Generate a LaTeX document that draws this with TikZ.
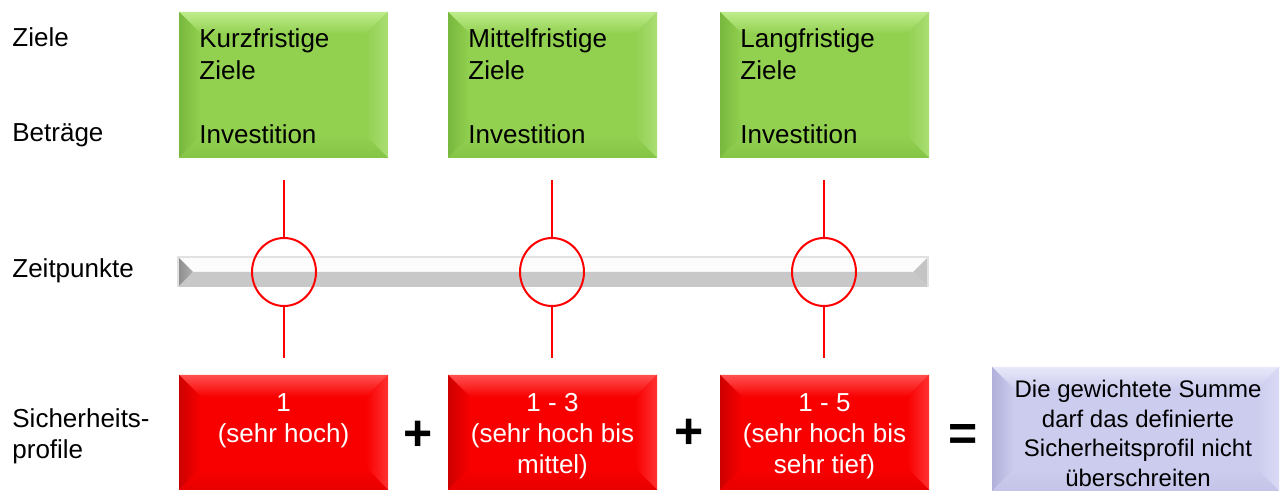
\documentclass[tikz,border=0pt]{standalone}
\usepackage{fontspec}
\setmainfont{Liberation Sans}
\usetikzlibrary{shapes.geometric}
\definecolor{gbase}{RGB}{146,208,80}
\definecolor{gtop}{RGB}{190,236,140}
\definecolor{gleft}{RGB}{120,184,62}
\definecolor{gright}{RGB}{170,222,116}
\definecolor{gbot}{RGB}{132,196,70}
\definecolor{rbase}{RGB}{248,0,0}
\definecolor{rtop}{RGB}{255,80,80}
\definecolor{rleft}{RGB}{205,0,0}
\definecolor{rright}{RGB}{255,50,50}
\definecolor{rbot}{RGB}{232,0,0}
\definecolor{pbase}{RGB}{204,204,238}
\definecolor{ptop}{RGB}{232,232,250}
\definecolor{pleft}{RGB}{176,176,218}
\definecolor{pright}{RGB}{218,218,246}
\definecolor{pbot}{RGB}{196,196,232}
\definecolor{bartop}{RGB}{252,252,252}
\definecolor{barbot}{RGB}{200,200,200}
\definecolor{barleft}{RGB}{140,140,140}
\definecolor{barright}{RGB}{196,196,196}
\definecolor{barline}{RGB}{226,226,226}
% #1 node, #2 inset, #3 base, #4 top, #5 left, #6 right, #7 bottom
\newcommand\bevelfx[7]{%
  \shade[top color=#4, bottom color=#3] (#1.north west) -- (#1.north east) -- ([shift={(-#2,-#2)}]#1.north east) -- ([shift={(#2,-#2)}]#1.north west) -- cycle;
  \shade[left color=#5, right color=#3] (#1.north west) -- ([shift={(#2,-#2)}]#1.north west) -- ([shift={(#2,#2)}]#1.south west) -- (#1.south west) -- cycle;
  \shade[left color=#3, right color=#6] (#1.north east) -- ([shift={(-#2,-#2)}]#1.north east) -- ([shift={(-#2,#2)}]#1.south east) -- (#1.south east) -- cycle;
  \shade[top color=#3, bottom color=#7] (#1.south west) -- ([shift={(#2,#2)}]#1.south west) -- ([shift={(-#2,#2)}]#1.south east) -- (#1.south east) -- cycle;
}
\tikzset{
  panel/.style={rectangle, inner sep=0pt, outer sep=0pt},
  greenbox/.style={panel, fill=gbase, minimum width=104.5pt, minimum height=73pt},
  redbox/.style={panel, fill=rbase, minimum width=104.5pt, minimum height=57.5pt},
  purplebox/.style={panel, fill=pbase, minimum width=143.5pt, minimum height=62pt},
  gtext/.style={inner sep=0pt, align=left, anchor=north west, font=\fontsize{13}{16}\selectfont},
  rtext/.style={inner sep=0pt, align=center, anchor=north, text=white, font=\fontsize{13}{15.5}\selectfont},
  ptext/.style={inner sep=0pt, align=center, anchor=north, font=\fontsize{12}{14.75}\selectfont},
  lbl/.style={inner sep=0pt, align=left, font=\fontsize{13}{15.5}\selectfont},
  ring/.style={ellipse, draw=red, line width=1pt, minimum width=32pt, minimum height=34pt, inner sep=0pt},
  redline/.style={draw=red, line width=1.4pt},
  opsign/.style={inner sep=0pt, font=\fontsize{25}{28}\selectfont\bfseries}
}
\begin{document}
\begin{tikzpicture}[x=0.5pt,y=-0.5pt]
\useasboundingbox (0,0) rectangle (1280,491);
\fill[white] (0,0) rectangle (1280,491);

% left labels
\node[lbl, anchor=base west] (lz) at (12,47) {Ziele};
\node[lbl, anchor=base west] (lb) at (12,142) {Beträge};
\node[lbl, anchor=base west] (lt) at (12,278) {Zeitpunkte};
\node[lbl, anchor=north west] (ls) at (12,408) {Sicherheits-\\profile};

% green boxes
\node[greenbox] (g1) at (283.5,85) {};
\bevelfx{g1}{11pt}{gbase}{gtop}{gleft}{gright}{gbot}
\node[greenbox] (g2) at (552.5,85) {};
\bevelfx{g2}{11pt}{gbase}{gtop}{gleft}{gright}{gbot}
\node[greenbox] (g3) at (824.5,85) {};
\bevelfx{g3}{11pt}{gbase}{gtop}{gleft}{gright}{gbot}
\node[gtext] (g1t) at (199,28) {Kurzfristige\\Ziele\\[16pt]Investition};
\node[gtext] (g2t) at (468,28) {Mittelfristige\\Ziele\\[16pt]Investition};
\node[gtext] (g3t) at (740,28) {Langfristige\\Ziele\\[16pt]Investition};

% timeline bar
\node[panel, minimum width=375pt, minimum height=15pt] (bar) at (553,272) {};
\fill[bartop] (bar.north west) -- (bar.north east) -- ([shift={(-7.5pt,-7.5pt)}]bar.north east) -- ([shift={(7.5pt,-7.5pt)}]bar.north west) -- cycle;
\fill[barbot] (bar.south west) -- ([shift={(7.5pt,7.5pt)}]bar.south west) -- ([shift={(-7.5pt,7.5pt)}]bar.south east) -- (bar.south east) -- cycle;
\shade[left color=barleft, right color=barleft!70!white] (bar.north west) -- ([shift={(7.5pt,-7.5pt)}]bar.north west) -- (bar.south west) -- cycle;
\fill[barright] (bar.north east) -- ([shift={(-7.5pt,-7.5pt)}]bar.north east) -- (bar.south east) -- cycle;
\draw[barline, line width=0.6pt] (bar.south west) |- (bar.north east) -- (bar.south east);

% rings and lines
\node[ring] (c1) at (284,272) {};
\node[ring] (c2) at (552,272) {};
\node[ring] (c3) at (824,272) {};
\coordinate (t1) at (284,180);
\coordinate (t2) at (552,180);
\coordinate (t3) at (824,180);
\coordinate (u1) at (284,358);
\coordinate (u2) at (552,358);
\coordinate (u3) at (824,358);
\draw[redline] (t1) -- (c1.north);
\draw[redline] (c1.south) -- (u1);
\draw[redline] (t2) -- (c2.north);
\draw[redline] (c2.south) -- (u2);
\draw[redline] (t3) -- (c3.north);
\draw[redline] (c3.south) -- (u3);

% red boxes
\node[redbox] (r1) at (283.5,432.5) {};
\bevelfx{r1}{11pt}{rbase}{rtop}{rleft}{rright}{rbot}
\node[redbox] (r2) at (552.5,432.5) {};
\bevelfx{r2}{11pt}{rbase}{rtop}{rleft}{rright}{rbot}
\node[redbox] (r3) at (824.5,432.5) {};
\bevelfx{r3}{11pt}{rbase}{rtop}{rleft}{rright}{rbot}
\node[rtext] (r1t) at (283.5,393) {1\\(sehr hoch)};
\node[rtext] (r2t) at (552.5,393) {1 - 3\\(sehr hoch bis\\mittel)};
\node[rtext] (r3t) at (824.5,393) {1 - 5\\(sehr hoch bis\\sehr tief)};

% operators
\node[opsign] (p1) at (418,436) {+};
\node[opsign] (p2) at (689,434) {+};
\node[opsign] (eq) at (963,437) {=};

% result box
\node[purplebox] (res) at (1135.5,429) {};
\bevelfx{res}{11pt}{pbase}{ptop}{pleft}{pright}{pbot}
\node[ptext] (rest) at (1138,380) {Die gewichtete Summe\\darf das definierte\\Sicherheitsprofil nicht\\überschreiten};
\end{tikzpicture}
\end{document}
